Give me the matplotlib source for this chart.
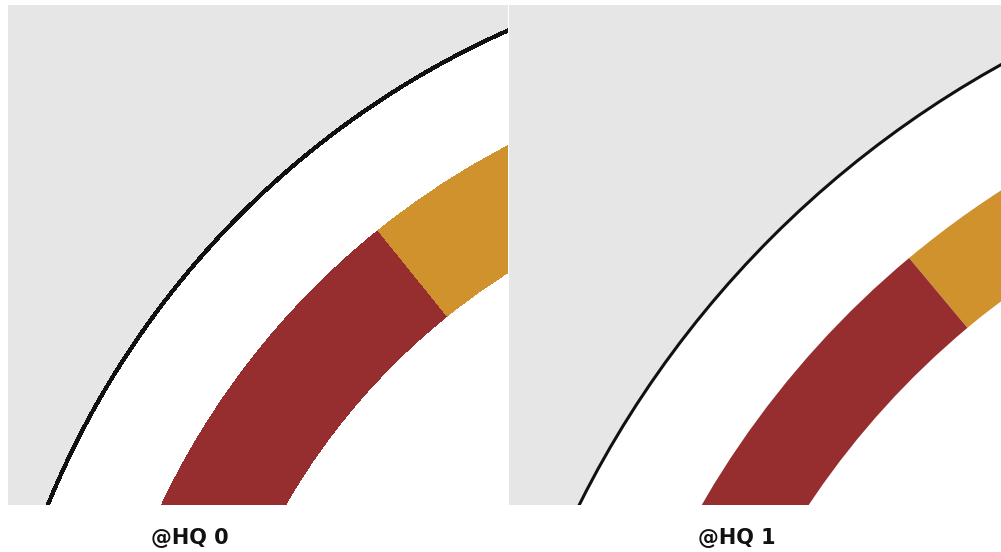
import matplotlib
matplotlib.use('Agg')
import matplotlib.pyplot as plt
from matplotlib.patches import Circle

# ring shares, counter-clockwise from the top (only the first two are in view)
shares = [10.8, 35.0, 54.2]
slice_colors = ['#CF922D', '#962E30', '#5B7DB1']
labels = ['@HQ 0', '@HQ 1']

W, H = 1001, 552

# per-panel layout in pixels: the view is a close-up on the ring edge
panels = [
    dict(rect=(8, 5, 500, 500), center=(860, -335), r_line=886, r_out=782,
         r_in=672, start=90, aa=False, label_x=190),
    dict(rect=(509, 5, 492, 500), center=(990, -459), r_line=1028, r_out=920,
         r_in=829, start=91, aa=True, label_x=737),
]

fig = plt.figure(figsize=(W / 100, H / 100), dpi=100)

for p, label in zip(panels, labels):
    x0, y0, w, h = p['rect']
    ax = fig.add_axes([x0 / W, (H - y0 - h) / H, w / W, h / H])
    ax.set_facecolor('#e6e6e6')

    # white disc with the black outline
    ax.add_patch(Circle(p['center'], p['r_line'], facecolor='white',
                        edgecolor='#111111', linewidth=2.2,
                        antialiased=p['aa'], clip_on=True))

    wedges, _ = ax.pie(shares, colors=slice_colors, radius=p['r_out'],
                       center=p['center'], startangle=p['start'],
                       counterclock=True, frame=True,
                       wedgeprops=dict(width=p['r_out'] - p['r_in'],
                                       linewidth=0, antialiased=p['aa']))
    for wd in wedges:
        wd.set_clip_on(True)
        wd.set_clip_path(ax.patch)

    ax.set_aspect('auto')
    ax.set_xlim(0, w)
    ax.set_ylim(0, h)
    ax.set_xticks([])
    ax.set_yticks([])
    for s in ax.spines.values():
        s.set_visible(False)

    fig.text(p['label_x'] / W, 14 / H, label, ha='center', va='center',
             fontsize=15, fontweight='bold', color='#111111')

fig.savefig('out.png', dpi=100)
